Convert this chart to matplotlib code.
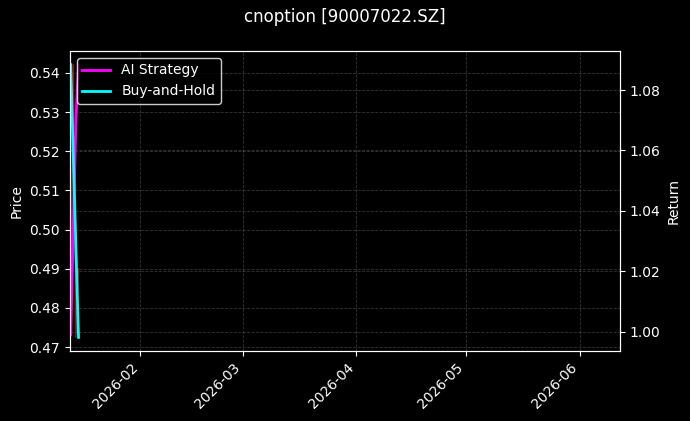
import numpy as np
import pandas as pd
import matplotlib
matplotlib.use('Agg')
import matplotlib.pyplot as plt
import matplotlib.dates as mdates

# data
times = pd.to_datetime(['2026-01-13 00:00', '2026-01-13 17:00',
                        '2026-01-14 10:00', '2026-01-15 03:00'])
price = [0.480, 0.5421, 0.4725, 0.490]
ai_strategy = [0.9990, 1.035, 1.070, 1.0884]
buy_hold = [1.0884, 1.058, 1.028, 0.9982]
x_start = pd.Timestamp('2026-01-12 19:00')
x_end = pd.Timestamp('2026-06-12')

plt.style.use('dark_background')
fig, ax1 = plt.subplots(figsize=(6.9, 4.21), dpi=100)
fig.subplots_adjust(left=0.1014, right=0.8986, top=0.8789, bottom=0.1663)

ax1.plot(times, price, color='red', lw=1, alpha=0.8)
ax1.set_ylabel('Price')
ax1.grid(True, linestyle='--', color='gray', alpha=0.4, lw=0.6)

ax2 = ax1.twinx()
ax2.plot(times, ai_strategy, color='magenta', lw=2, label='AI Strategy')
ax2.plot(times, buy_hold, color='cyan', lw=2, label='Buy-and-Hold')
ax2.set_ylabel('Return')
ax2.grid(True, linestyle='--', color='gray', alpha=0.4, lw=0.6)
ax2.legend(loc='upper left', facecolor='black', edgecolor='white')

ax1.set_xlim(x_start, x_end)
ax1.xaxis.set_major_locator(mdates.MonthLocator())
ax1.xaxis.set_major_formatter(mdates.DateFormatter('%Y-%m'))
plt.setp(ax1.get_xticklabels(), rotation=45, ha='right')

fig.suptitle('cnoption [90007022.SZ]', fontsize=12)
fig.savefig('out.png', dpi=100)
